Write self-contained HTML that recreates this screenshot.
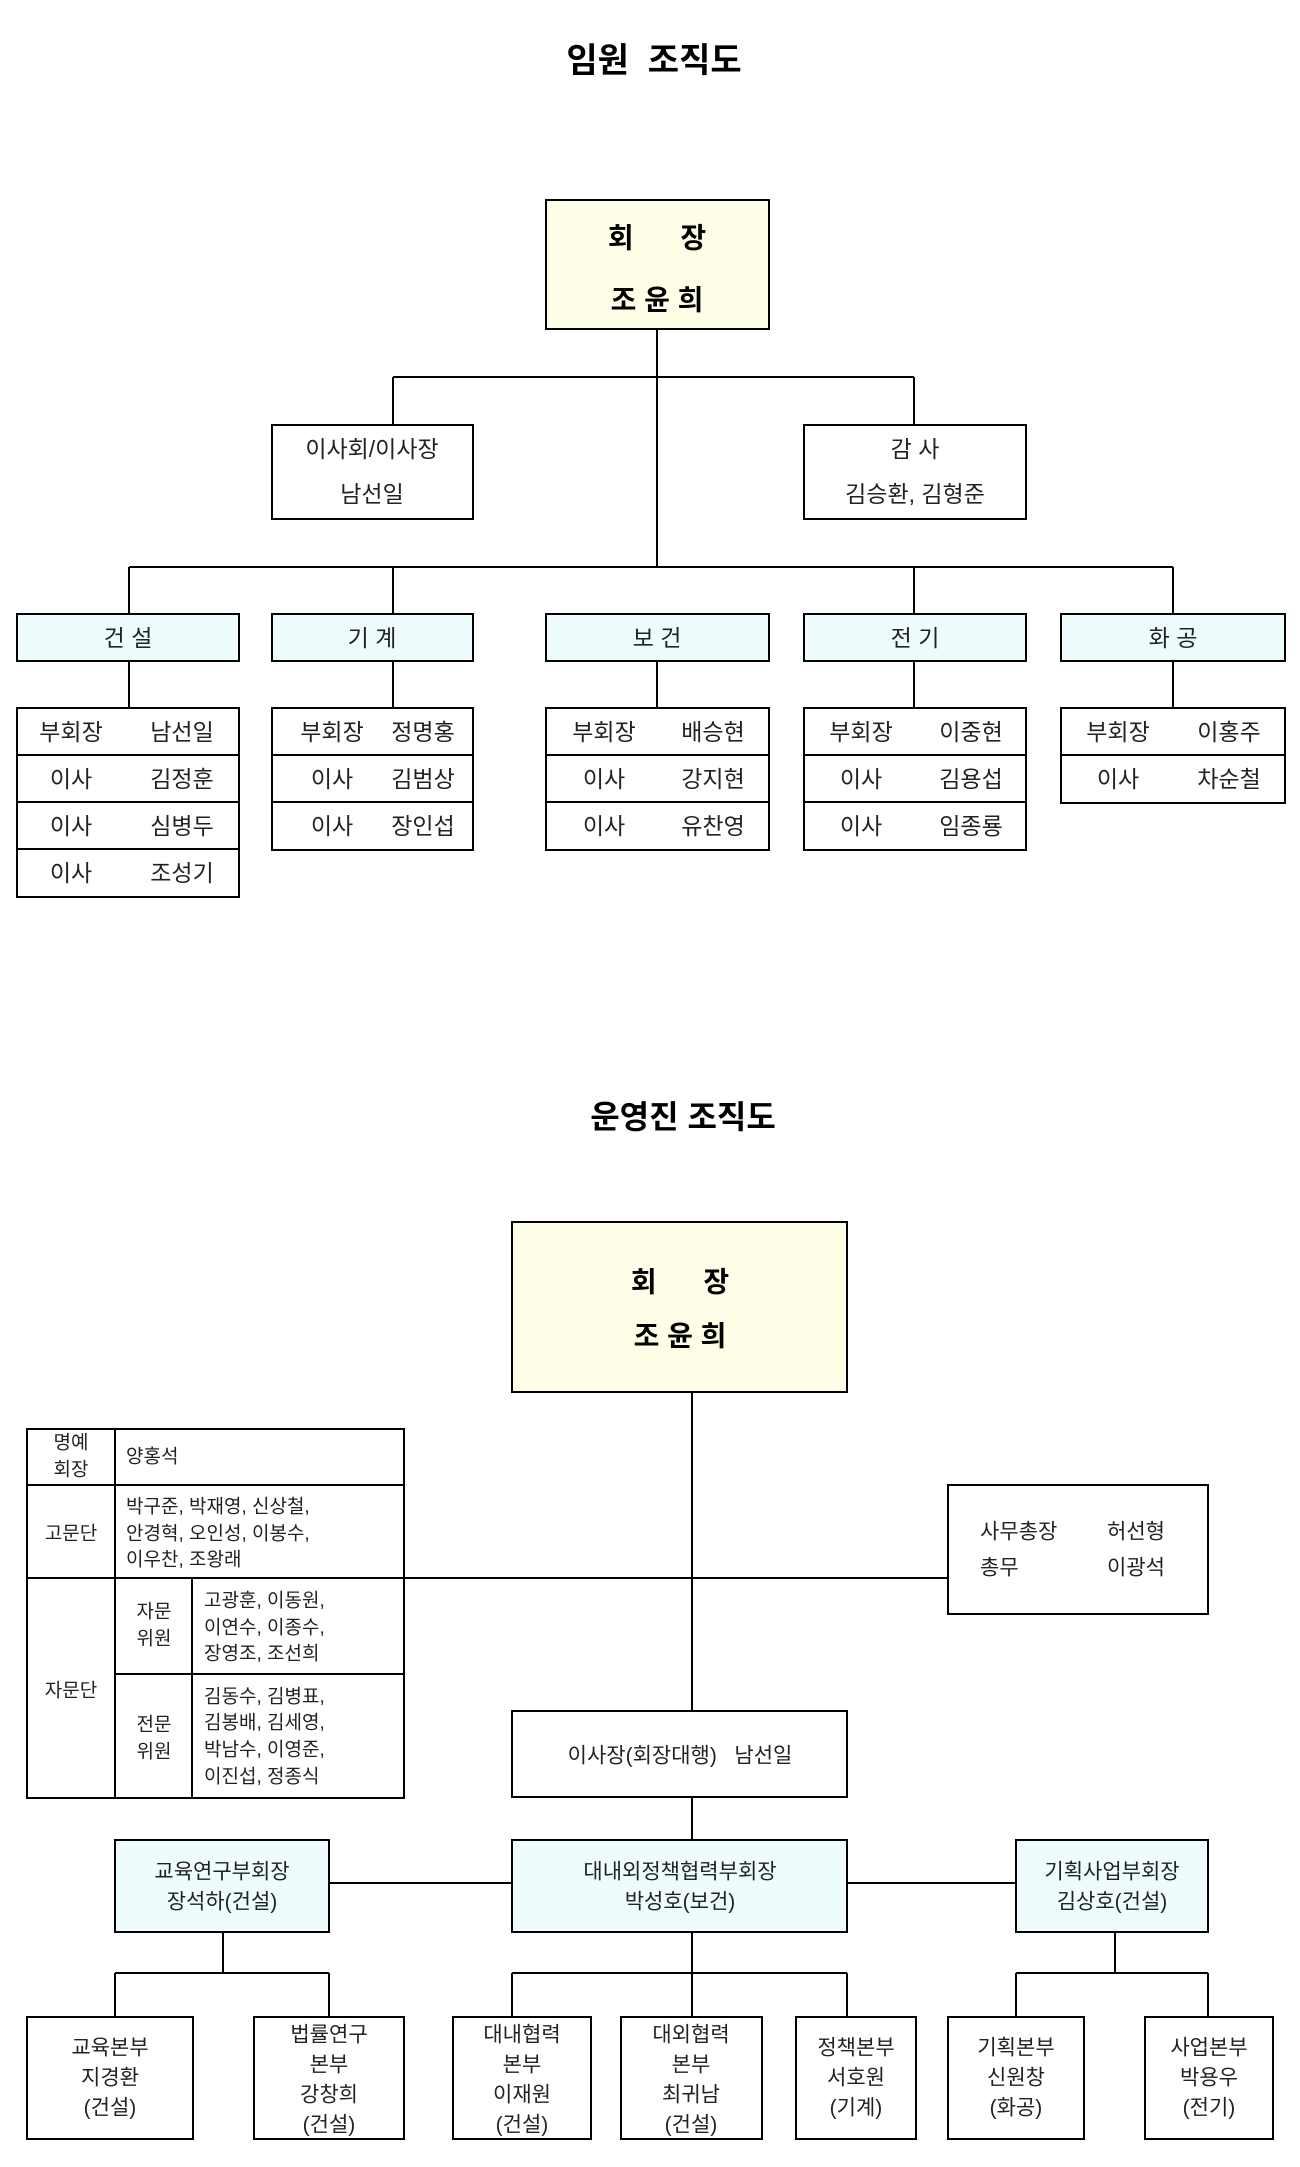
<!DOCTYPE html>
<html><head><meta charset="utf-8"><style>
html,body{margin:0;padding:0;background:#fff;}
svg{display:block;}
text{font-family:"Liberation Sans","Noto Sans CJK KR",sans-serif;fill:#222;white-space:pre;}
.t{font-size:23px;text-anchor:middle;dominant-baseline:central;}
.s{font-size:19px;dominant-baseline:central;}
.sc{font-size:19px;text-anchor:middle;dominant-baseline:central;}
.b{font-weight:bold;fill:#000;}
</style></head><body>
<svg width="1300" height="2167" viewBox="0 0 1300 2167" xmlns="http://www.w3.org/2000/svg" xml:space="preserve">
<g stroke="#000" stroke-width="2" fill="none">
<line x1="657" y1="329" x2="657" y2="567"/>
<line x1="393" y1="377" x2="914" y2="377"/>
<line x1="393" y1="377" x2="393" y2="425"/>
<line x1="914" y1="377" x2="914" y2="425"/>
<line x1="129" y1="567" x2="1173" y2="567"/>
<line x1="129" y1="567" x2="129" y2="614"/>
<line x1="393" y1="567" x2="393" y2="614"/>
<line x1="914" y1="567" x2="914" y2="614"/>
<line x1="1173" y1="567" x2="1173" y2="614"/>
<line x1="129" y1="661" x2="129" y2="708"/>
<line x1="393" y1="661" x2="393" y2="708"/>
<line x1="657" y1="661" x2="657" y2="708"/>
<line x1="914" y1="661" x2="914" y2="708"/>
<line x1="1173" y1="661" x2="1173" y2="708"/>
</g>
<g stroke="#000" stroke-width="2">
<rect x="546" y="200" width="223" height="129" fill="#fefee6"/>
<rect x="272" y="425" width="201" height="94" fill="#fff"/>
<rect x="804" y="425" width="222" height="94" fill="#fff"/>
<rect x="17" y="614" width="222" height="47" fill="#effcfd"/>
<rect x="272" y="614" width="201" height="47" fill="#effcfd"/>
<rect x="546" y="614" width="223" height="47" fill="#effcfd"/>
<rect x="804" y="614" width="222" height="47" fill="#effcfd"/>
<rect x="1061" y="614" width="224" height="47" fill="#effcfd"/>
<rect x="17" y="708" width="222" height="189" fill="#fff"/>
<line x1="17" y1="755" x2="239" y2="755"/><line x1="17" y1="802" x2="239" y2="802"/><line x1="17" y1="849" x2="239" y2="849"/>
<rect x="272" y="708" width="201" height="142" fill="#fff"/>
<line x1="272" y1="755" x2="473" y2="755"/><line x1="272" y1="802" x2="473" y2="802"/>
<rect x="546" y="708" width="223" height="142" fill="#fff"/>
<line x1="546" y1="755" x2="769" y2="755"/><line x1="546" y1="802" x2="769" y2="802"/>
<rect x="804" y="708" width="222" height="142" fill="#fff"/>
<line x1="804" y1="755" x2="1026" y2="755"/><line x1="804" y1="802" x2="1026" y2="802"/>
<rect x="1061" y="708" width="224" height="95" fill="#fff"/>
<line x1="1061" y1="755" x2="1285" y2="755"/>
</g>
<text x="654" y="61" class="t b" style="font-size:34px">임원  조직도</text>
<text x="657" y="238" class="t b" style="font-size:28px">회      장</text>
<text x="657" y="300" class="t b" style="font-size:28px">조 윤 희</text>
<text x="372" y="449" class="t">이사회/이사장</text>
<text x="372" y="494" class="t">남선일</text>
<text x="915" y="449" class="t">감 사</text>
<text x="915" y="494" class="t">김승환, 김형준</text>
<text x="128" y="638" class="t">건 설</text>
<text x="372" y="638" class="t">기 계</text>
<text x="657" y="638" class="t">보 건</text>
<text x="915" y="638" class="t">전 기</text>
<text x="1173" y="638" class="t">화 공</text>
<text x="71" y="732" class="t">부회장</text><text x="182" y="732" class="t">남선일</text>
<text x="71" y="779" class="t">이사</text><text x="182" y="779" class="t">김정훈</text>
<text x="71" y="826" class="t">이사</text><text x="182" y="826" class="t">심병두</text>
<text x="71" y="873" class="t">이사</text><text x="182" y="873" class="t">조성기</text>
<text x="332" y="732" class="t">부회장</text><text x="423" y="732" class="t">정명홍</text>
<text x="332" y="779" class="t">이사</text><text x="423" y="779" class="t">김범상</text>
<text x="332" y="826" class="t">이사</text><text x="423" y="826" class="t">장인섭</text>
<text x="604" y="732" class="t">부회장</text><text x="713" y="732" class="t">배승현</text>
<text x="604" y="779" class="t">이사</text><text x="713" y="779" class="t">강지현</text>
<text x="604" y="826" class="t">이사</text><text x="713" y="826" class="t">유찬영</text>
<text x="861" y="732" class="t">부회장</text><text x="971" y="732" class="t">이중현</text>
<text x="861" y="779" class="t">이사</text><text x="971" y="779" class="t">김용섭</text>
<text x="861" y="826" class="t">이사</text><text x="971" y="826" class="t">임종룡</text>
<text x="1118" y="732" class="t">부회장</text><text x="1229" y="732" class="t">이홍주</text>
<text x="1118" y="779" class="t">이사</text><text x="1229" y="779" class="t">차순철</text>

<text x="683" y="1117" class="t b" style="font-size:32px">운영진 조직도</text>
<g stroke="#000" stroke-width="2" fill="none">
<line x1="692" y1="1392" x2="692" y2="1711"/>
<line x1="404" y1="1578" x2="948" y2="1578"/>
<line x1="692" y1="1797" x2="692" y2="1840"/>
<line x1="329" y1="1883" x2="512" y2="1883"/>
<line x1="847" y1="1883" x2="1016" y2="1883"/>
<line x1="223" y1="1932" x2="223" y2="1973"/>
<line x1="692" y1="1932" x2="692" y2="2017"/>
<line x1="1115" y1="1932" x2="1115" y2="1973"/>
<line x1="115" y1="1973" x2="329" y2="1973"/>
<line x1="512" y1="1973" x2="847" y2="1973"/>
<line x1="1016" y1="1973" x2="1208" y2="1973"/>
<line x1="115" y1="1973" x2="115" y2="2017"/>
<line x1="329" y1="1973" x2="329" y2="2017"/>
<line x1="512" y1="1973" x2="512" y2="2017"/>
<line x1="847" y1="1973" x2="847" y2="2017"/>
<line x1="1016" y1="1973" x2="1016" y2="2017"/>
<line x1="1208" y1="1973" x2="1208" y2="2017"/>
</g>
<g stroke="#000" stroke-width="2">
<rect x="512" y="1222" width="335" height="170" fill="#fefee6"/>
<rect x="27" y="1429" width="377" height="369" fill="#fff"/>
<line x1="27" y1="1485" x2="404" y2="1485"/>
<line x1="27" y1="1578" x2="404" y2="1578"/>
<line x1="115" y1="1429" x2="115" y2="1798"/>
<line x1="192" y1="1578" x2="192" y2="1798"/>
<line x1="115" y1="1674" x2="404" y2="1674"/>
<rect x="948" y="1485" width="260" height="129" fill="#fff"/>
<rect x="512" y="1711" width="335" height="86" fill="#fff"/>
<rect x="115" y="1840" width="214" height="92" fill="#effcfd"/>
<rect x="512" y="1840" width="335" height="92" fill="#effcfd"/>
<rect x="1016" y="1840" width="192" height="92" fill="#effcfd"/>
<rect x="27" y="2017" width="166" height="122" fill="#fff"/>
<rect x="254" y="2017" width="150" height="122" fill="#fff"/>
<rect x="453" y="2017" width="138" height="122" fill="#fff"/>
<rect x="621" y="2017" width="141" height="122" fill="#fff"/>
<rect x="796" y="2017" width="120" height="122" fill="#fff"/>
<rect x="948" y="2017" width="136" height="122" fill="#fff"/>
<rect x="1145" y="2017" width="128" height="122" fill="#fff"/>
</g>
<text x="680" y="1282" class="t b" style="font-size:28px">회      장</text>
<text x="680" y="1336" class="t b" style="font-size:28px">조 윤 희</text>
<text x="71" y="1443" class="sc">명예</text><text x="71" y="1470" class="sc">회장</text>
<text x="126" y="1457" class="s">양홍석</text>
<text x="71" y="1534" class="sc">고문단</text>
<text x="126" y="1507" class="s">박구준, 박재영, 신상철,</text>
<text x="126" y="1534" class="s">안경혁, 오인성, 이봉수,</text>
<text x="126" y="1560" class="s">이우찬, 조왕래</text>
<text x="71" y="1691" class="sc">자문단</text>
<text x="154" y="1612" class="sc">자문</text><text x="154" y="1639" class="sc">위원</text>
<text x="204" y="1601" class="s">고광훈, 이동원,</text>
<text x="204" y="1628" class="s">이연수, 이종수,</text>
<text x="204" y="1654" class="s">장영조, 조선희</text>
<text x="154" y="1725" class="sc">전문</text><text x="154" y="1752" class="sc">위원</text>
<text x="204" y="1697" class="s">김동수, 김병표,</text>
<text x="204" y="1723" class="s">김봉배, 김세영,</text>
<text x="204" y="1750" class="s">박남수, 이영준,</text>
<text x="204" y="1777" class="s">이진섭, 정종식</text>
<text x="980" y="1532" class="s" style="font-size:21px">사무총장</text><text x="1107" y="1532" class="s" style="font-size:21px">허선형</text>
<text x="980" y="1568" class="s" style="font-size:21px">총무</text><text x="1107" y="1568" class="s" style="font-size:21px">이광석</text>
<text x="680" y="1756" class="t" style="font-size:21px">이사장(회장대행)   남선일</text>
<text x="222" y="1872" class="t" style="font-size:21px">교육연구부회장</text>
<text x="222" y="1902" class="t" style="font-size:21px">장석하(건설)</text>
<text x="680" y="1872" class="t" style="font-size:21px">대내외정책협력부회장</text>
<text x="680" y="1902" class="t" style="font-size:21px">박성호(보건)</text>
<text x="1112" y="1872" class="t" style="font-size:21px">기획사업부회장</text>
<text x="1112" y="1902" class="t" style="font-size:21px">김상호(건설)</text>
<text x="110" y="2048" class="t" style="font-size:21px">교육본부</text><text x="110" y="2078" class="t" style="font-size:21px">지경환</text><text x="110" y="2108" class="t" style="font-size:21px">(건설)</text>
<text x="329" y="2035" class="t" style="font-size:21px">법률연구</text><text x="329" y="2065" class="t" style="font-size:21px">본부</text><text x="329" y="2095" class="t" style="font-size:21px">강창희</text><text x="329" y="2125" class="t" style="font-size:21px">(건설)</text>
<text x="522" y="2035" class="t" style="font-size:21px">대내협력</text><text x="522" y="2065" class="t" style="font-size:21px">본부</text><text x="522" y="2095" class="t" style="font-size:21px">이재원</text><text x="522" y="2125" class="t" style="font-size:21px">(건설)</text>
<text x="691" y="2035" class="t" style="font-size:21px">대외협력</text><text x="691" y="2065" class="t" style="font-size:21px">본부</text><text x="691" y="2095" class="t" style="font-size:21px">최귀남</text><text x="691" y="2125" class="t" style="font-size:21px">(건설)</text>
<text x="856" y="2048" class="t" style="font-size:21px">정책본부</text><text x="856" y="2078" class="t" style="font-size:21px">서호원</text><text x="856" y="2108" class="t" style="font-size:21px">(기계)</text>
<text x="1016" y="2048" class="t" style="font-size:21px">기획본부</text><text x="1016" y="2078" class="t" style="font-size:21px">신원창</text><text x="1016" y="2108" class="t" style="font-size:21px">(화공)</text>
<text x="1209" y="2048" class="t" style="font-size:21px">사업본부</text><text x="1209" y="2078" class="t" style="font-size:21px">박용우</text><text x="1209" y="2108" class="t" style="font-size:21px">(전기)</text>
</svg>
</body></html>
